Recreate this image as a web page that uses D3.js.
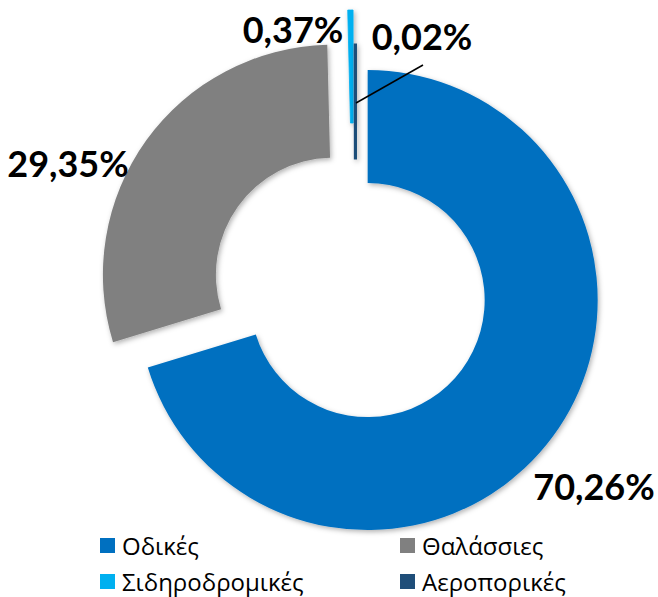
<!DOCTYPE html>
<html><head><meta charset="utf-8">
<script src="https://cdn.jsdelivr.net/npm/d3@7"></script>
<style>body{margin:0;background:#fff}svg{display:block}</style>
</head><body>
<svg id="c" width="658" height="597"></svg>
<script>
const categories = ["Οδικές", "Θαλάσσιες", "Σιδηροδρομικές", "Αεροπορικές"];
const values = [70.26, 29.35, 0.37, 0.02];
const labels = ["70,26%", "29,35%", "0,37%", "0,02%"];
const colors = ["#0070C0", "#808080", "#00B0F0", "#1F4E79"];
const explode = [17, 26, 50, 15];

const svg = d3.select("#c");
const cx = 354, cy = 290, R = 230, r = 117;

const defs = svg.append("defs");
const f = defs.append("filter").attr("id","sh").attr("filterUnits","userSpaceOnUse")
  .attr("x",-400).attr("y",-400).attr("width",800).attr("height",800);
f.append("feDropShadow").attr("dx",1.5).attr("dy",2).attr("stdDeviation",2.5).attr("flood-color","#000").attr("flood-opacity",0.3);

const pie = d3.pie().sort(null).value(d => d)(values);
const arc = d3.arc().innerRadius(r).outerRadius(R);

const g = svg.append("g");
pie.forEach((p, i) => {
  const mid = (p.startAngle + p.endAngle) / 2;
  const dx = Math.sin(mid) * explode[i], dy = -Math.cos(mid) * explode[i];
  g.append("path")
    .attr("d", arc(p))
    .attr("transform", `translate(${cx + dx + (i === 3 ? 1.5 : 0)},${cy + dy})`)
    .attr("fill", colors[i])
    .attr("stroke", i >= 2 ? colors[i] : "none")
    .attr("stroke-width", i === 3 ? 3 : (i === 2 ? 0.8 : 0))
    .attr("filter", "url(#sh)");
});

// leader line for 0,02%
svg.append("line").attr("x1", 423).attr("y1", 65).attr("x2", 356).attr("y2", 103)
  .attr("stroke", "#000").attr("stroke-width", 1.5);

const labelPos = [[594, 500], [68, 177], [293, 43], [422, 50]];
labels.forEach((t, i) => {
  svg.append("text").attr("x", labelPos[i][0]).attr("y", labelPos[i][1])
    .attr("text-anchor", "middle")
    .attr("font-family", "Lato, 'Open Sans', sans-serif")
    .attr("font-weight", "bold").attr("font-size", 36).attr("fill", "#000")
    .text(t);
});

// legend
const legPos = [[100, 555], [400, 555], [100, 591], [400, 591]];
categories.forEach((c, i) => {
  const [x, y] = legPos[i];
  svg.append("rect").attr("x", x).attr("y", y - 17).attr("width", 15).attr("height", 15).attr("fill", colors[i]);
  svg.append("text").attr("x", x + 22).attr("y", y)
    .attr("font-family", "'Open Sans', sans-serif")
    .attr("font-size", 24).attr("fill", "#000").text(c);
});
</script>
</body></html>
